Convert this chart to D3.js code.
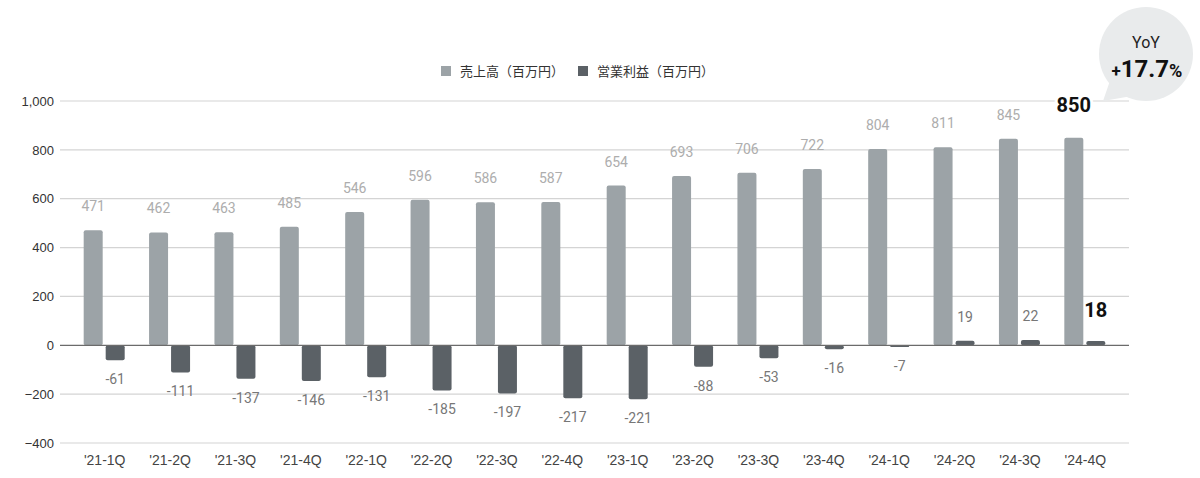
<!DOCTYPE html>
<html lang="ja">
<head>
<meta charset="UTF-8">
<title>売上高・営業利益 四半期推移</title>
<script src="https://d3js.org/d3.v7.min.js"></script>
<style>
  body { margin: 0; background: #fff; font-family: "Noto Sans CJK JP", "Noto Sans", sans-serif; }
  svg { display: block; }
  .grid line { stroke: #d4d4d4; stroke-width: 1.2; }
  .tick text { fill: #333; }
</style>
</head>
<body>
<svg id="chart" width="1200" height="478"></svg>
<script>
  const quarters = ["'21-1Q", "'21-2Q", "'21-3Q", "'21-4Q", "'22-1Q", "'22-2Q", "'22-3Q", "'22-4Q",
                    "'23-1Q", "'23-2Q", "'23-3Q", "'23-4Q", "'24-1Q", "'24-2Q", "'24-3Q", "'24-4Q"];
  const sales = [471, 462, 463, 485, 546, 596, 586, 587, 654, 693, 706, 722, 804, 811, 845, 850];
  const profit = [-61, -111, -137, -146, -131, -185, -197, -217, -221, -88, -53, -16, -7, 19, 22, 18];
  const yTicks = [-400, -200, 0, 200, 400, 600, 800, 1000];
  const seriesNames = ["売上高（百万円）", "営業利益（百万円）"];
  const colors = ["#9ca3a7", "#5b6166"];

  const svg = d3.select("#chart");
  const left = 60, right = 1129;

  const x = d3.scaleBand().domain(quarters).range([72, 1118]);
  const y = d3.scaleLinear().domain([-400, 1000]).range([443, 101]);

  // grid
  svg.append("g").attr("class", "grid")
    .selectAll("line").data(yTicks.filter(d => d !== 0)).join("line")
    .attr("x1", left).attr("x2", right)
    .attr("y1", d => y(d)).attr("y2", d => y(d));

  // y axis labels
  const yAxis = svg.append("g").attr("transform", `translate(${left},0)`)
    .call(d3.axisLeft(y).tickValues(yTicks).tickSize(0).tickPadding(6).tickFormat(d3.format(",")));
  yAxis.select(".domain").remove();
  yAxis.selectAll("text").style("font-size", "13px").style("font-family", "'Liberation Sans', Arial, sans-serif");

  const barW = 19;
  const c = d => x(d) + x.bandwidth() / 2;

  // sales bars
  svg.append("g").selectAll("rect").data(quarters).join("rect")
    .attr("x", d => c(d) - 21)
    .attr("width", barW)
    .attr("y", (d, i) => y(sales[i]))
    .attr("height", (d, i) => y(0) - y(sales[i]))
    .attr("rx", 2)
    .attr("fill", colors[0]);

  // profit bars
  svg.append("g").selectAll("rect").data(quarters).join("rect")
    .attr("x", d => c(d) + 1)
    .attr("width", barW)
    .attr("y", (d, i) => y(Math.max(0, profit[i])))
    .attr("height", (d, i) => Math.max(1.5, Math.abs(y(profit[i]) - y(0))))
    .attr("rx", 2)
    .attr("fill", colors[1]);

  // zero line
  svg.append("line").attr("x1", left).attr("x2", right)
    .attr("y1", y(0)).attr("y2", y(0))
    .attr("stroke", "#6b6b6b").attr("stroke-width", 1.3);

  // x labels
  const xAxis = svg.append("g").attr("transform", "translate(0,443)")
    .call(d3.axisBottom(x).tickSize(0).tickPadding(12));
  xAxis.select(".domain").remove();
  xAxis.selectAll("text").style("font-size", "14px").style("fill", "#444")
    .style("font-family", "'Liberation Sans', Arial, sans-serif");

  const last = quarters.length - 1;

  // sales value labels
  svg.append("g").selectAll("text").data(quarters).join("text")
    .attr("x", d => c(d) - 11.5)
    .attr("y", (d, i) => y(sales[i]) - (i === last ? 26 : 19))
    .attr("text-anchor", "middle")
    .style("font-family", "Roboto, 'Noto Sans', sans-serif")
    .style("font-size", (d, i) => i === last ? "20px" : "14px")
    .style("font-weight", (d, i) => i === last ? "700" : "400")
    .style("fill", (d, i) => i === last ? "#111" : "#adadad")
    .style("paint-order", "stroke").style("stroke", "#fff").style("stroke-width", (d, i) => i === last ? 6 : 0)
    .text((d, i) => sales[i]);

  // profit value labels
  svg.append("g").selectAll("text").data(quarters).join("text")
    .attr("x", d => c(d) + 10.5)
    .attr("y", (d, i) => profit[i] < 0 ? y(profit[i]) + 24 : y(profit[i]) - (i === last ? 24 : 19))
    .attr("text-anchor", "middle")
    .style("font-family", "Roboto, 'Noto Sans', sans-serif")
    .style("font-size", (d, i) => i === last ? "20px" : "14px")
    .style("font-weight", (d, i) => i === last ? "700" : "400")
    .style("fill", (d, i) => i === last ? "#111" : "#777")
    .text((d, i) => profit[i]);

  // legend
  const legend = svg.append("g").attr("transform", "translate(441,66)");
  const lx = [0, 137];
  seriesNames.forEach((name, i) => {
    legend.append("rect").attr("x", lx[i]).attr("y", 0).attr("width", 10).attr("height", 10).attr("fill", colors[i]);
    legend.append("text").attr("x", lx[i] + 19).attr("y", 10)
      .style("font-size", "13px").style("fill", "#333").text(name);
  });

  // YoY bubble
  const bub = svg.append("g");
  bub.append("path")
    .attr("d", "M1113,72 L1103,101 L1132,96 Z")
    .attr("fill", "#e9ebec");
  bub.append("circle").attr("cx", 1146).attr("cy", 54).attr("r", 47).attr("fill", "#e9ebec");
  bub.append("text").attr("x", 1146).attr("y", 48).attr("text-anchor", "middle")
    .style("font-size", "16px").style("fill", "#222")
    .style("font-family", "Roboto, 'Noto Sans', sans-serif").text("YoY");
  const yoy = bub.append("text").attr("x", 1147).attr("y", 77).attr("text-anchor", "middle")
    .style("font-family", "Roboto, 'Noto Sans', sans-serif").style("fill", "#111").style("font-weight", "700");
  yoy.append("tspan").style("font-size", "17px").text("+");
  yoy.append("tspan").style("font-size", "24px").text("17.7");
  yoy.append("tspan").style("font-size", "18px").text("%");
</script>
</body>
</html>
